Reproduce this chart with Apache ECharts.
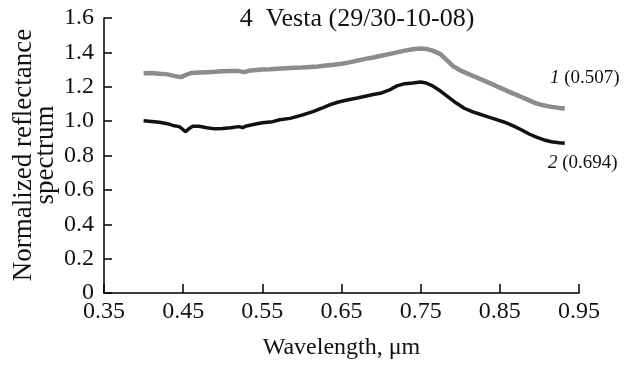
<!DOCTYPE html>
<html>
<head>
<meta charset="utf-8">
<script src="https://cdn.jsdelivr.net/npm/echarts@6/dist/echarts.min.js"></script>
<style>
html,body{margin:0;padding:0;background:#fff;}
#chart{width:636px;height:368px;}
</style>
</head>
<body>
<div id="chart"></div>
<script>
// Wavelength (µm) and normalized reflectance, curve 1 (gray)
var wave1 = [0.400,0.410,0.420,0.430,0.440,0.447,0.453,0.460,0.470,0.480,0.490,0.500,0.510,0.520,0.527,0.535,0.550,0.560,0.570,0.580,0.590,0.600,0.610,0.620,0.630,0.640,0.650,0.660,0.670,0.680,0.690,0.700,0.710,0.720,0.730,0.740,0.750,0.757,0.765,0.775,0.783,0.791,0.800,0.810,0.820,0.833,0.845,0.855,0.867,0.875,0.885,0.895,0.905,0.915,0.925,0.932];
var refl1 = [1.278,1.280,1.276,1.272,1.262,1.256,1.268,1.280,1.283,1.285,1.287,1.290,1.292,1.291,1.285,1.295,1.300,1.302,1.305,1.308,1.310,1.312,1.315,1.318,1.323,1.328,1.334,1.342,1.352,1.362,1.370,1.380,1.390,1.400,1.410,1.418,1.423,1.420,1.410,1.390,1.355,1.320,1.295,1.275,1.255,1.230,1.205,1.185,1.160,1.145,1.125,1.105,1.092,1.083,1.077,1.074];
// curve 2 (black)
var wave2 = [0.400,0.410,0.420,0.430,0.437,0.445,0.450,0.453,0.457,0.462,0.470,0.480,0.490,0.500,0.510,0.520,0.525,0.530,0.540,0.550,0.563,0.572,0.585,0.600,0.614,0.625,0.635,0.645,0.657,0.670,0.680,0.690,0.699,0.710,0.720,0.730,0.740,0.750,0.757,0.765,0.775,0.785,0.795,0.805,0.815,0.825,0.835,0.845,0.855,0.867,0.877,0.887,0.897,0.905,0.915,0.925,0.932];
var refl2 = [1.002,0.998,0.993,0.985,0.975,0.968,0.950,0.938,0.955,0.970,0.970,0.962,0.955,0.957,0.962,0.968,0.962,0.972,0.982,0.990,0.997,1.008,1.016,1.035,1.055,1.075,1.095,1.110,1.123,1.135,1.145,1.155,1.162,1.180,1.205,1.218,1.222,1.228,1.222,1.205,1.175,1.140,1.105,1.075,1.055,1.040,1.025,1.010,0.995,0.972,0.950,0.925,0.905,0.892,0.880,0.874,0.871];

var xTicks = [0.35,0.45,0.55,0.65,0.75,0.85,0.95];
var yTicks = [0,0.2,0.4,0.6,0.8,1.0,1.2,1.4,1.6];

var titleText = '4  Vesta (29/30-10-08)';
var xName = 'Wavelength, \u03bcm';
var yName1 = 'Normalized reflectance';
var yName2 = 'spectrum';

function pairs(xs, ys){ return xs.map(function(x,i){ return [x, ys[i]]; }); }

var FONT = '"Liberation Serif","Times New Roman",serif';
var chart = echarts.init(document.getElementById('chart'), null, {renderer:'canvas'});
chart.setOption({
  animation:false,
  backgroundColor:'#fff',
  grid:{left:104,right:57,top:18,bottom:75,containLabel:false,outerBoundsMode:'none'},
  xAxis:{
    type:'value', min:0.35, max:0.95,
    name:xName, nameLocation:'middle', nameGap:43,
    nameTextStyle:{fontFamily:FONT,fontSize:24,color:'#111'},
    axisLine:{show:true,onZero:false,lineStyle:{color:'#000',width:1.5}},
    axisTick:{show:true,inside:true,length:9,customValues:xTicks,lineStyle:{color:'#000',width:1.5}},
    axisLabel:{show:true,customValues:xTicks,margin:7,fontFamily:FONT,fontSize:24,color:'#111',
      formatter:function(v){return v.toFixed(2);}},
    splitLine:{show:false}
  },
  yAxis:{
    type:'value', min:0, max:1.6, interval:0.2,
    axisLine:{show:true,lineStyle:{color:'#000',width:1.5}},
    axisTick:{show:true,inside:true,length:8,lineStyle:{color:'#000',width:1.5}},
    axisLabel:{margin:10,fontFamily:FONT,fontSize:24,color:'#111',
      formatter:function(v){return v===0?'0':v.toFixed(1);}},
    splitLine:{show:false}
  },
  series:[
    {type:'line',data:pairs(wave1,refl1),showSymbol:false,smooth:false,
     lineStyle:{color:'#8c8c8c',width:4.5},z:2},
    {type:'line',data:pairs(wave2,refl2),showSymbol:false,smooth:false,
     lineStyle:{color:'#111',width:3.5},z:3}
  ],
  graphic:[
    {type:'text',x:357,y:19,style:{text:titleText,font:'26px '+FONT,fill:'#111',align:'center',verticalAlign:'middle'}},
    {type:'text',x:24,y:155,rotation:Math.PI/2,style:{text:yName1,font:'27px '+FONT,fill:'#111',align:'center',verticalAlign:'middle'}},
    {type:'text',x:46,y:155,rotation:Math.PI/2,style:{text:yName2,font:'27px '+FONT,fill:'#111',align:'center',verticalAlign:'middle'}},
    {type:'text',x:550,y:78,style:{text:'{i|1}{n| (0.507)}',align:'left',verticalAlign:'middle',
      rich:{i:{fontFamily:FONT,fontSize:19,fontStyle:'italic',fill:'#111'},n:{fontFamily:FONT,fontSize:19,fill:'#111'}}}},
    {type:'text',x:548,y:163,style:{text:'{i|2}{n| (0.694)}',align:'left',verticalAlign:'middle',
      rich:{i:{fontFamily:FONT,fontSize:19,fontStyle:'italic',fill:'#111'},n:{fontFamily:FONT,fontSize:19,fill:'#111'}}}}
  ]
});
</script>
</body>
</html>
